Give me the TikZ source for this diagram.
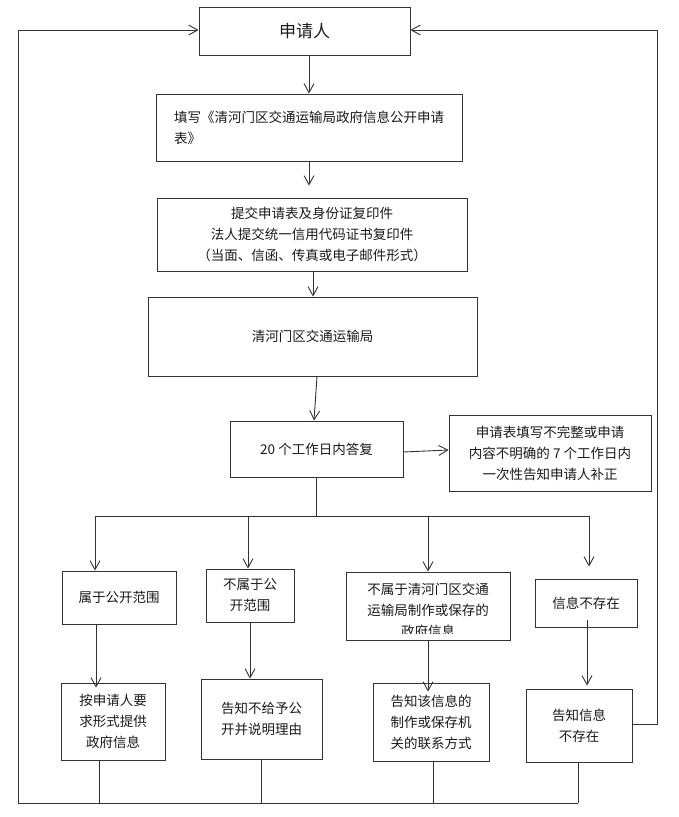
\documentclass[tikz,border=0pt]{standalone}
\usepackage{fontspec}
\setmainfont{Noto Sans CJK SC}
\usetikzlibrary{arrows.meta}
\definecolor{ln}{HTML}{333333}
\definecolor{tx}{HTML}{1A1A1A}
\begin{document}
\begin{tikzpicture}[x=1pt,y=-1pt,
  box/.style={draw=ln,line width=0.9pt,rectangle,inner sep=0pt,text=tx,align=center,
    font=\fontsize{13.5}{21}\selectfont},
  conn/.style={draw=ln,line width=0.9pt},
  arr/.style={conn,-{Straight Barb[length=9pt,width=10pt,line width=0.9pt]}}]
\useasboundingbox (0,0) rectangle (679,817);
% top
\node[box,minimum width=211,minimum height=48,font=\fontsize{17}{21}\selectfont] (app) at (304.5,31) {申请人};
\node[box,minimum width=306,minimum height=67,align=left] (fill) at (309,127.5) {填写《清河门区交通运输局政府信息公开申请\\表》};
\node[box,minimum width=310,minimum height=73] (submit) at (312,234.5) {提交申请表及身份证复印件\\法人提交统一信用代码证书复印件\\（当面、信函、传真或电子邮件形式）};
\node[box,minimum width=329,minimum height=79] (bureau) at (312.5,336.5) {清河门区交通运输局};
\node[box,minimum width=173,minimum height=56] (reply) at (316.5,449) {20 个工作日内答复};
\node[box,minimum width=202,minimum height=76] (notice) at (550,453) {申请表填写不完整或申请\\内容不明确的 7 个工作日内\\一次性告知申请人补正};
% row 1
\node[box,minimum width=114,minimum height=53] (a1) at (119,597.5) {属于公开范围};
\node[box,minimum width=88,minimum height=53] (b1) at (250,595.5) {不属于公\\开范围};
\node[box,minimum width=164,minimum height=68] (c1) at (428,606) {};
\begin{scope}
\clip (346,572) rectangle (510,633);
\node[box,draw=none] (c1t) at (428,610) {不属于清河门区交通\\运输局制作或保存的\\政府信息};
\end{scope}
\node[box,minimum width=102,minimum height=48] (d1) at (586,603) {信息不存在};
% row 2
\node[box,minimum width=104,minimum height=77] (a2) at (113,721.5) {按申请人要\\求形式提供\\政府信息};
\node[box,minimum width=121,minimum height=80] (b2) at (261.5,719) {告知不给予公\\开并说明理由};
\node[box,minimum width=116,minimum height=78] (c2) at (431,722) {告知该信息的\\制作或保存机\\关的联系方式};
\node[box,minimum width=106,minimum height=73] (d2) at (579,725.5) {告知信息\\不存在};
% coordinates
\coordinate (barL) at (95,516);
\coordinate (barR) at (590,516);
\coordinate (bl) at (18,803);
\coordinate (tl) at (18,30);
\coordinate (tr) at (657,30);
\coordinate (mr) at (657,724);
% main chain
\draw[arr] (app.south -| fill.north) -- (fill.north);
\draw[arr] (fill.south -| 309,0) -- ([yshift=12pt]submit.north -| 309,0);
\draw[arr] (submit.south -| 313,0) -- (bureau.north -| 313,0);
\draw[arr] (bureau.south -| 317,0) -- (reply.north -| 314,0);
\draw[arr] (reply.east |- 0,452) -- (notice.west |- 0,450);
\draw[conn] (reply.south -| 316,0) -- (316,516);
\draw[conn] (barL) -- (barR);
% branches
\draw[arr] (barL) -- (a1.north -| barL);
\draw[arr] (248,516) -- (b1.north -| 248,0);
\draw[arr] (428,516) -- (c1.north);
\draw[arr] (589,516) -- ([yshift=12pt]d1.north -| 589,0);
% row1 -> row2
\draw[arr] (a1.south -| 96,0) -- ([yshift=-5pt]a2.north -| 96,0);
\draw[arr] (b1.south -| 250,0) -- (b2.north -| 250,0);
\draw[arr] (c1.south) -- ([yshift=-9pt]c2.north -| 428,0);
\draw[arr] ([yshift=7pt]d1.south -| 587,0) -- ([yshift=3pt]d2.north -| 587,0);
% bottom returns
\draw[conn] (a2.south -| 99,0) -- (99,803);
\draw[conn] (b2.south -| 261,0) -- (261,803);
\draw[conn] (c2.south -| 433,0) -- (433,803);
\draw[conn] (d2.south -| 578,0) -- (578,803);
\draw[conn] (578,803) -- (bl);
\draw[arr] (bl) -- (tl) -- (app.west |- tl);
\draw[arr] (d2.east |- mr) -- (mr) -- (tr) -- (app.east |- tr);
\end{tikzpicture}
\end{document}
